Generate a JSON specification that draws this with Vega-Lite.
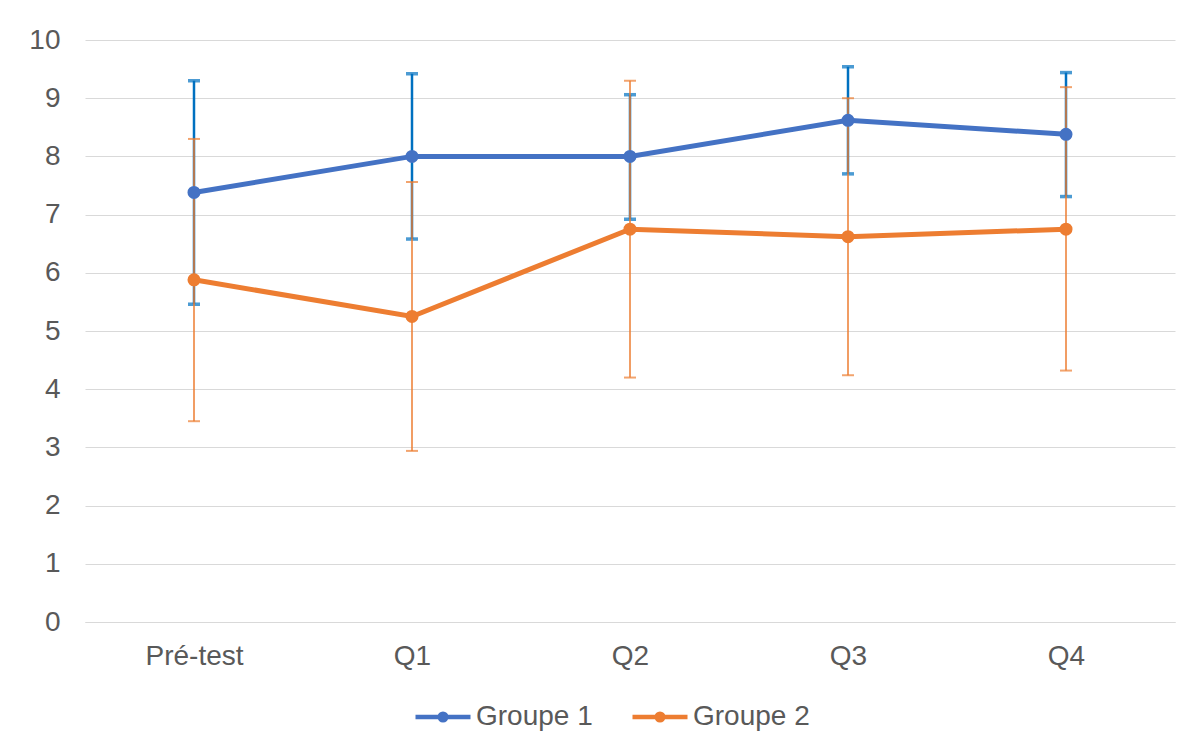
{
  "$schema": "https://vega.github.io/schema/vega-lite/v6.json",
  "width": 1090,
  "height": 582,
  "autosize": {"type": "none"},
  "padding": {"left": 85, "top": 40, "right": 14, "bottom": 122},
  "background": "white",
  "config": {
    "font": "Liberation Sans",
    "view": {"stroke": null},
    "axis": {"labelFont": "Liberation Sans", "labelColor": "#595959", "labelFontSize": 28}
  },
  "data": {
    "values": [
      {"cat": "Pré-test", "group": "Groupe 1", "mean": 7.38, "lo": 5.46, "hi": 9.3},
      {"cat": "Q1", "group": "Groupe 1", "mean": 8.0, "lo": 6.58, "hi": 9.42},
      {"cat": "Q2", "group": "Groupe 1", "mean": 8.0, "lo": 6.92, "hi": 9.06},
      {"cat": "Q3", "group": "Groupe 1", "mean": 8.62, "lo": 7.7, "hi": 9.54},
      {"cat": "Q4", "group": "Groupe 1", "mean": 8.38, "lo": 7.31, "hi": 9.44},
      {"cat": "Pré-test", "group": "Groupe 2", "mean": 5.88, "lo": 3.45, "hi": 8.3},
      {"cat": "Q1", "group": "Groupe 2", "mean": 5.25, "lo": 2.94, "hi": 7.56},
      {"cat": "Q2", "group": "Groupe 2", "mean": 6.75, "lo": 4.2, "hi": 9.3},
      {"cat": "Q3", "group": "Groupe 2", "mean": 6.62, "lo": 4.24, "hi": 9.0},
      {"cat": "Q4", "group": "Groupe 2", "mean": 6.75, "lo": 4.32, "hi": 9.19}
    ]
  },
  "encoding": {
    "x": {
      "field": "cat", "type": "nominal", "sort": null,
      "scale": {"type": "point", "padding": 0.5},
      "axis": {"title": null, "labelAngle": 0, "ticks": false, "domainColor": "#D9D9D9", "domainWidth": 1, "labelPadding": 20, "grid": false}
    }
  },
  "layer": [
    {
      "transform": [{"filter": "datum.group === 'Groupe 1'"}],
      "mark": {"type": "rule", "color": "#0070C0", "strokeWidth": 2.5},
      "encoding": {
        "y": {"field": "lo", "type": "quantitative", "scale": {"domain": [0, 10]},
          "axis": {"title": null, "values": [0,1,2,3,4,5,6,7,8,9,10], "domain": false, "ticks": false, "gridColor": "#D9D9D9", "gridWidth": 1, "labelPadding": 25}},
        "y2": {"field": "hi"}
      }
    },
    {
      "transform": [{"filter": "datum.group === 'Groupe 1'"}],
      "mark": {"type": "tick", "color": "#0070C0", "size": 12, "thickness": 3.5},
      "encoding": {"y": {"field": "lo", "type": "quantitative",
          "axis": {"title": null, "values": [0,1,2,3,4,5,6,7,8,9,10], "domain": false, "ticks": false, "gridColor": "#D9D9D9", "gridWidth": 1, "labelPadding": 25}}}
    },
    {
      "transform": [{"filter": "datum.group === 'Groupe 1'"}],
      "mark": {"type": "tick", "color": "#0070C0", "size": 12, "thickness": 3.5},
      "encoding": {"y": {"field": "hi", "type": "quantitative",
          "axis": {"title": null, "values": [0,1,2,3,4,5,6,7,8,9,10], "domain": false, "ticks": false, "gridColor": "#D9D9D9", "gridWidth": 1, "labelPadding": 25}}}
    },
    {
      "transform": [{"filter": "datum.group === 'Groupe 2'"}],
      "mark": {"type": "rule", "color": "#ED7D31", "strokeWidth": 1.5},
      "encoding": {
        "y": {"field": "lo", "type": "quantitative",
          "axis": {"title": null, "values": [0,1,2,3,4,5,6,7,8,9,10], "domain": false, "ticks": false, "gridColor": "#D9D9D9", "gridWidth": 1, "labelPadding": 25}},
        "y2": {"field": "hi"}
      }
    },
    {
      "transform": [{"filter": "datum.group === 'Groupe 2'"}],
      "mark": {"type": "tick", "color": "#ED7D31", "size": 12, "thickness": 2},
      "encoding": {"y": {"field": "lo", "type": "quantitative",
          "axis": {"title": null, "values": [0,1,2,3,4,5,6,7,8,9,10], "domain": false, "ticks": false, "gridColor": "#D9D9D9", "gridWidth": 1, "labelPadding": 25}}}
    },
    {
      "transform": [{"filter": "datum.group === 'Groupe 2'"}],
      "mark": {"type": "tick", "color": "#ED7D31", "size": 12, "thickness": 2},
      "encoding": {"y": {"field": "hi", "type": "quantitative",
          "axis": {"title": null, "values": [0,1,2,3,4,5,6,7,8,9,10], "domain": false, "ticks": false, "gridColor": "#D9D9D9", "gridWidth": 1, "labelPadding": 25}}}
    },
    {
      "mark": {"type": "line", "strokeWidth": 5},
      "encoding": {
        "y": {"field": "mean", "type": "quantitative",
          "axis": {"title": null, "values": [0,1,2,3,4,5,6,7,8,9,10], "domain": false, "ticks": false, "gridColor": "#D9D9D9", "gridWidth": 1, "labelPadding": 25}},
        "color": {
          "field": "group", "type": "nominal",
          "scale": {"domain": ["Groupe 1", "Groupe 2"], "range": ["#4472C4", "#ED7D31"]},
          "legend": {
            "title": null, "orient": "none", "direction": "horizontal",
            "legendX": 328, "legendY": 647,
            "symbolType": "M-1,0L1,0M0.12,0A0.12,0.12 0 1,1 -0.12,0A0.12,0.12 0 1,1 0.12,0",
            "symbolSize": 3025, "symbolStrokeWidth": 4.5,
            "labelFont": "Liberation Sans", "labelFontSize": 28, "labelColor": "#595959",
            "labelOffset": 3, "columnPadding": 30
          }
        }
      }
    },
    {
      "mark": {"type": "circle", "size": 170, "opacity": 1},
      "encoding": {
        "y": {"field": "mean", "type": "quantitative",
          "axis": {"title": null, "values": [0,1,2,3,4,5,6,7,8,9,10], "domain": false, "ticks": false, "gridColor": "#D9D9D9", "gridWidth": 1, "labelPadding": 25}},
        "color": {"field": "group", "type": "nominal"}
      }
    }
  ]
}
